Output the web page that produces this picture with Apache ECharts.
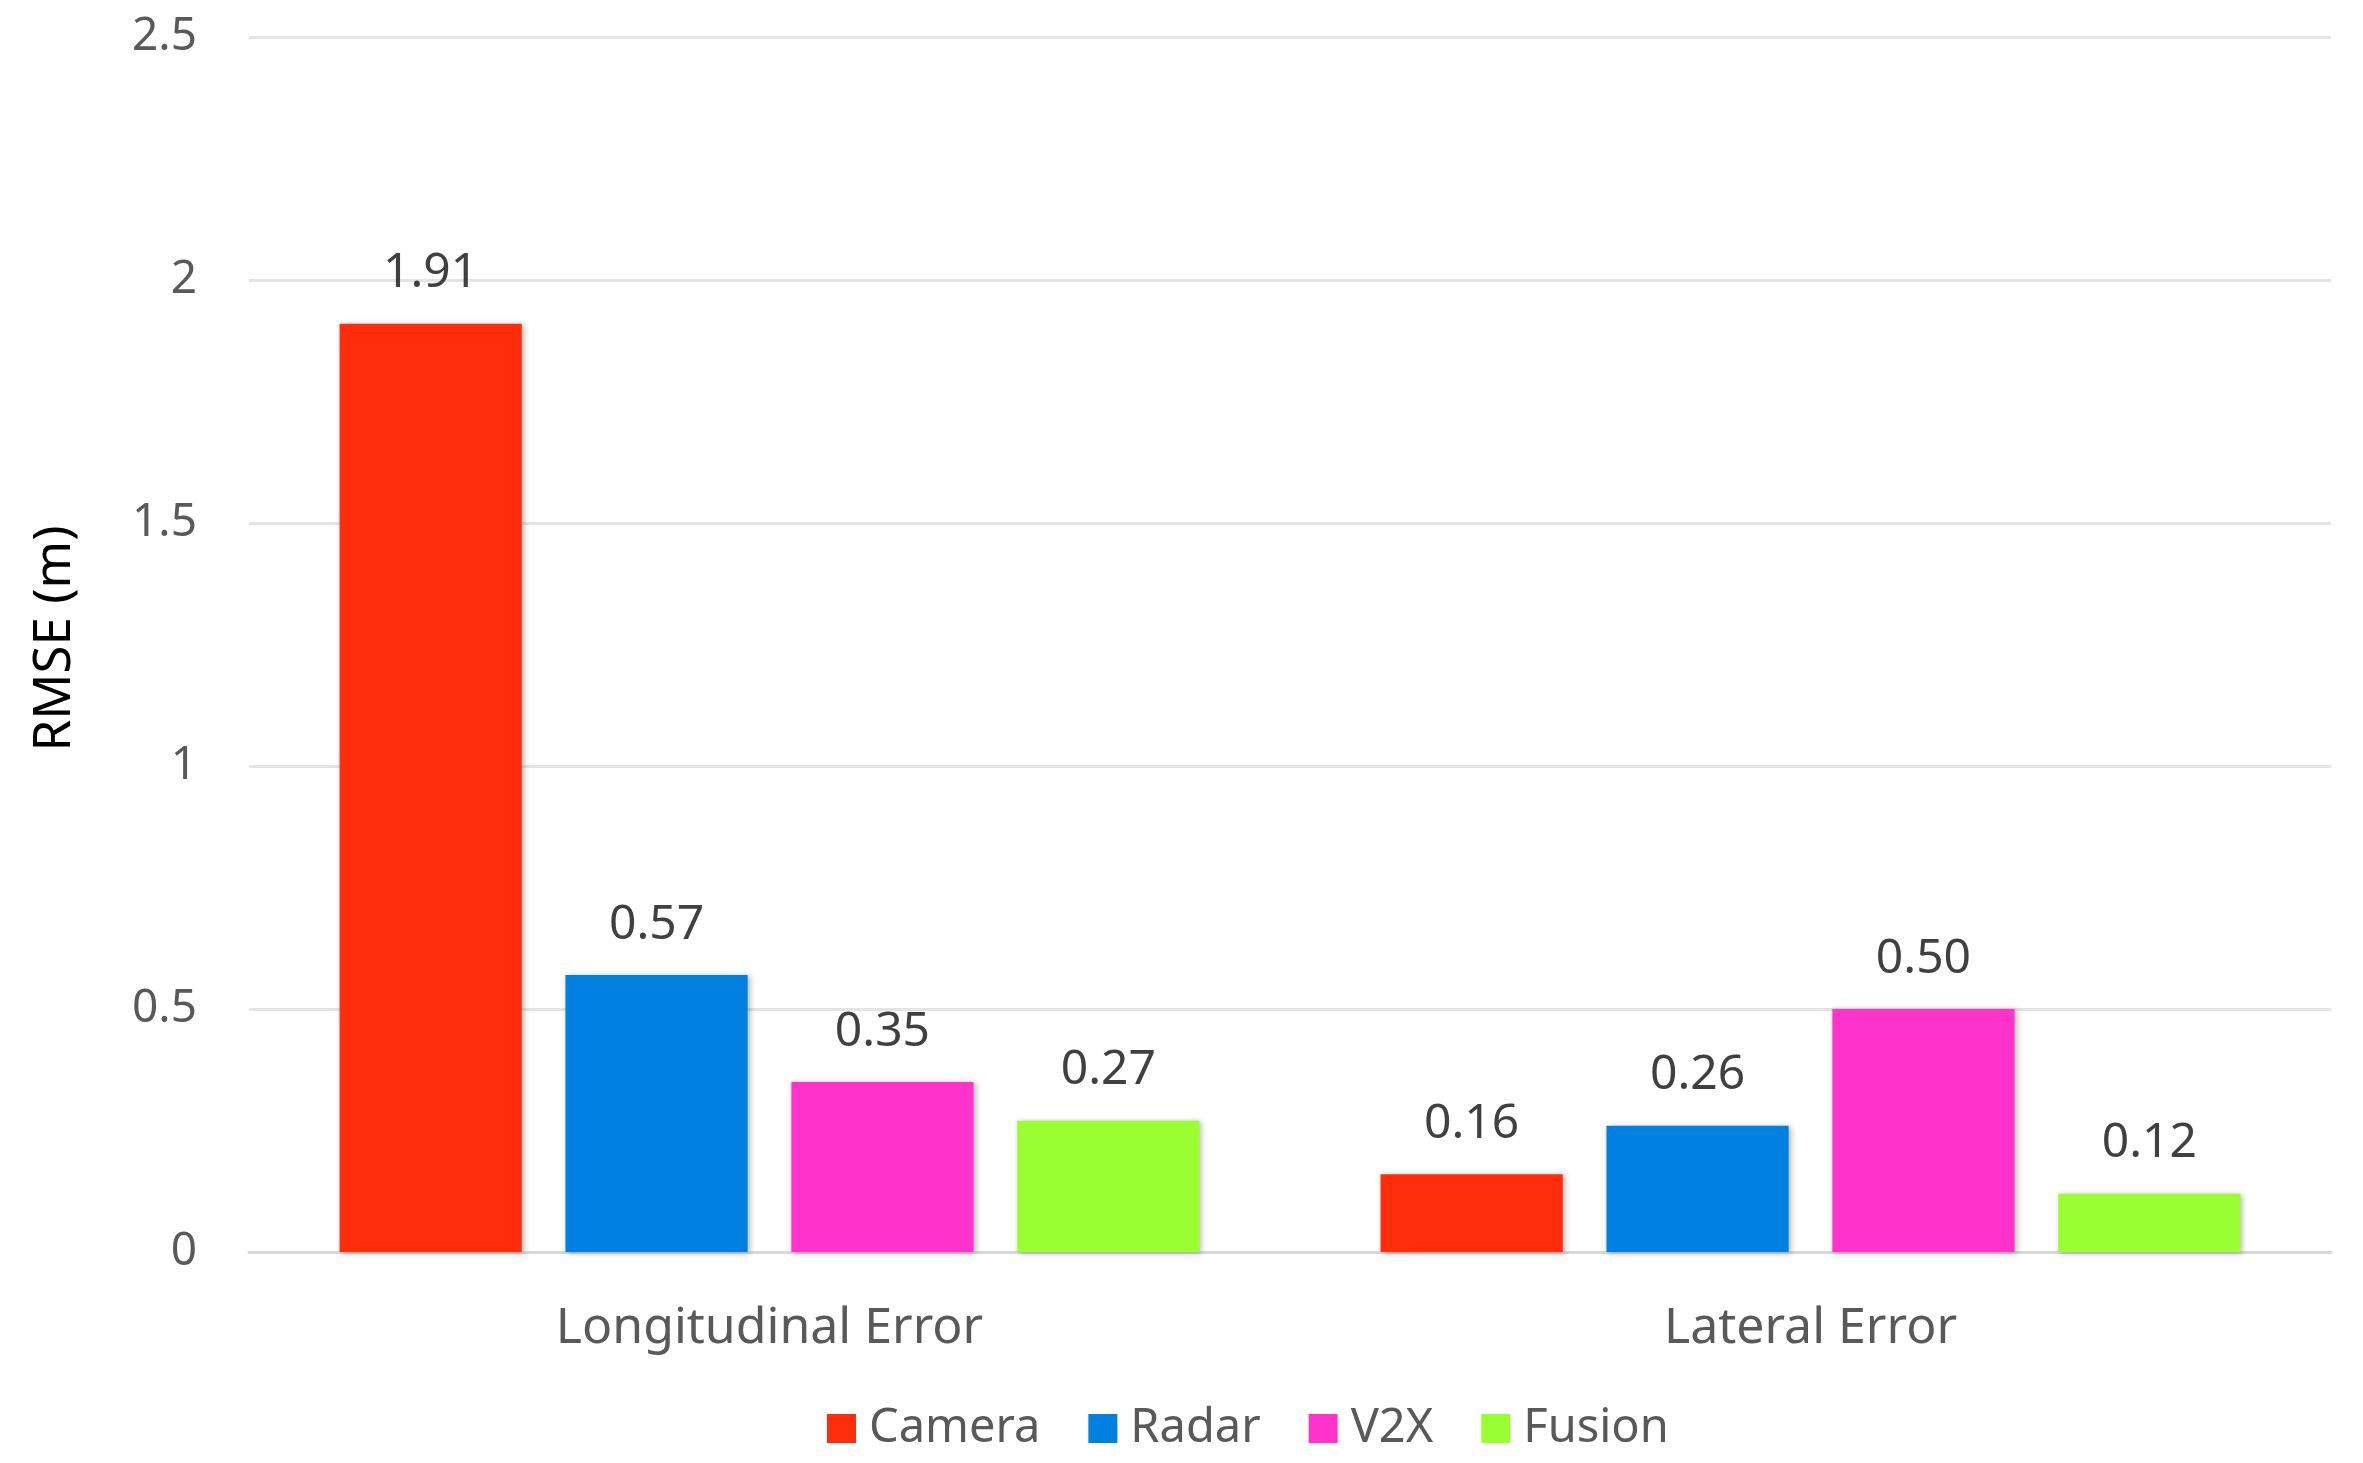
<!DOCTYPE html>
<html><head><meta charset="utf-8">
<script src="https://cdn.jsdelivr.net/npm/echarts@6/dist/echarts.min.js"></script>
<style>html,body{margin:0;padding:0;background:#fff}#c{width:2363px;height:1463px}</style>
</head><body><div id="c"></div>
<script>
const categories = ['Longitudinal Error', 'Lateral Error'];
const seriesNames = ['Camera', 'Radar', 'V2X', 'Fusion'];
const camera = [1.91, 0.16];
const radar = [0.57, 0.26];
const v2x = [0.35, 0.50];
const fusion = [0.27, 0.12];
const yTicks = [0, 0.5, 1, 1.5, 2, 2.5];
const colors = ['#FF2D0B', '#0080E0', '#FF33CC', '#99FF33'];
const values = [camera, radar, v2x, fusion];
const FONT = '"Noto Sans", "Open Sans", sans-serif';

const chart = echarts.init(document.getElementById('c'));
chart.setOption({
  animation: false,
  textStyle: { fontFamily: FONT },
  grid: { left: 249, right: 32, top: 37, bottom: 211, containLabel: false },
  legend: {
    bottom: 6, left: 822,
    itemWidth: 29, itemHeight: 29, itemGap: 48,
    icon: 'rect',
    textStyle: { fontFamily: FONT, fontSize: 47, color: '#595959', padding: [0, 0, 0, 8] },
    data: seriesNames
  },
  xAxis: {
    type: 'category', data: categories,
    axisTick: { show: false },
    axisLine: { lineStyle: { color: '#D9D9D9', width: 3 } },
    axisLabel: { fontFamily: FONT, fontSize: 50, color: '#595959', margin: 52 }
  },
  yAxis: {
    type: 'value', min: yTicks[0], max: yTicks[yTicks.length - 1], interval: 0.5,
    name: 'RMSE (m)', nameLocation: 'middle', nameRotate: 90, nameGap: 168,
    nameTextStyle: { fontFamily: FONT, fontSize: 51, color: '#000000', padding: [0, 0, 0, 12] },
    axisLine: { show: false }, axisTick: { show: false },
    splitLine: { lineStyle: { color: '#E4E4E4', width: 3 } },
    axisLabel: { fontFamily: FONT, fontSize: 46, color: '#595959', margin: 52, padding: [8, 0, 0, 0],
      formatter: v => String(v) }
  },
  series: seriesNames.map((n, i) => ({
    name: n, type: 'bar', data: values[i],
    barGap: '24%', barCategoryGap: '17.4%',
    itemStyle: { color: colors[i], shadowColor: 'rgba(0,0,0,0.3)', shadowBlur: 6, shadowOffsetX: 2, shadowOffsetY: 1 },
    label: { show: true, position: 'top', distance: 26, fontFamily: FONT, fontSize: 48, color: '#404040',
      formatter: p => p.value.toFixed(2) }
  }))
});
</script></body></html>
